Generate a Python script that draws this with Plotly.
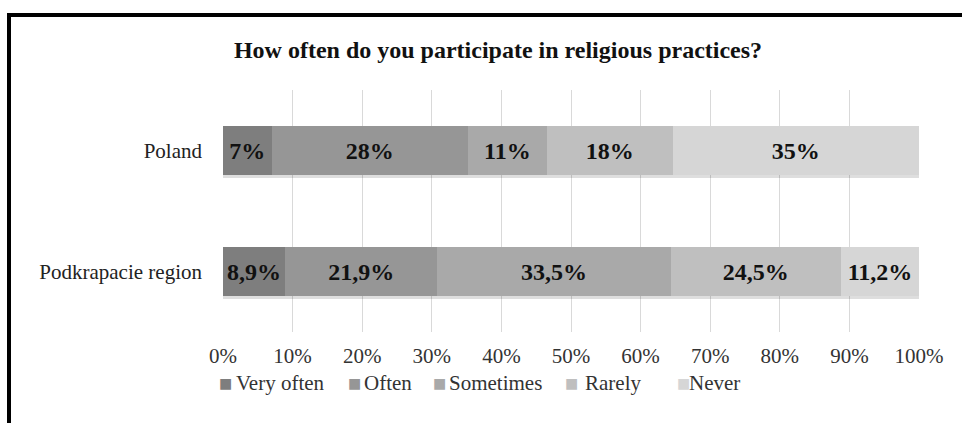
import plotly.graph_objects as go

categories = ["Poland", "Podkrapacie region"]
series_names = ["Very often", "Often", "Sometimes", "Rarely", "Never"]
# bar lengths (labels show rounded values)
very_often = [7.0, 8.9]
often = [28.2, 21.9]
sometimes = [11.3, 33.5]
rarely = [18.1, 24.5]
never = [35.4, 11.2]
labels_very_often = ["7%", "8,9%"]
labels_often = ["28%", "21,9%"]
labels_sometimes = ["11%", "33,5%"]
labels_rarely = ["18%", "24,5%"]
labels_never = ["35%", "11,2%"]
x_ticks = [0, 10, 20, 30, 40, 50, 60, 70, 80, 90, 100]
x_tick_labels = [f"{v}%" for v in x_ticks]

series_values = [very_often, often, sometimes, rarely, never]
series_labels = [labels_very_often, labels_often, labels_sometimes,
                 labels_rarely, labels_never]
colors = ["#7e7e7e", "#969696", "#a9a9a9", "#bfbfbf", "#d6d6d6"]

FONT = "Liberation Serif, Times New Roman, serif"

# plot area geometry in pixels
L, R, T, B = 223, 919, 90, 332
W, H = R - L, B - T

def px_x(p):
    return (p - L) / W

def px_y(p):
    return (B - p) / H

fig = go.Figure()

# soft drop shadow beneath each full bar (primary axis, drawn underneath)
totals = [sum(v[i] for v in series_values) for i in range(len(categories))]
fig.add_trace(go.Bar(
    y=categories, x=[t + 0.3 for t in totals], orientation="h",
    width=0.4, offset=-0.2 + 0.03,
    marker=dict(color="rgba(0,0,0,0.13)", line=dict(width=0)),
    showlegend=False, hoverinfo="skip", yaxis="y",
))

for name, vals, labs, col in zip(series_names, series_values, series_labels, colors):
    fig.add_trace(go.Bar(
        name=name, y=categories, x=vals, orientation="h",
        marker=dict(color=col, line=dict(width=0)),
        text=labs, textposition="inside", insidetextanchor="middle",
        textangle=0, constraintext="none",
        textfont=dict(family=FONT, size=24, color="#111111", weight="bold"),
        hoverinfo="skip", showlegend=False, yaxis="y2",
    ))

ycommon = dict(categoryorder="array", categoryarray=categories,
               autorange="reversed", showgrid=False, zeroline=False,
               showline=False, ticks="")

fig.update_layout(
    width=962, height=423,
    barmode="stack", bargap=0.6,
    paper_bgcolor="white", plot_bgcolor="white",
    margin=dict(l=L, r=962 - R, t=T, b=423 - B, autoexpand=False),
    font=dict(family=FONT, color="#222222", size=21),
    title=dict(text="<b>How often do you participate in religious practices?</b>",
               x=px_x(498), xref="paper", xanchor="center",
               y=1 - 50 / 423, yanchor="middle",
               font=dict(family=FONT, size=24, color="#111111")),
    xaxis=dict(range=[0, 100], tickvals=x_ticks, ticktext=x_tick_labels,
               showgrid=True, gridcolor="#d9d9d9", gridwidth=1,
               zeroline=False, showline=False, ticks="",
               ticklabelstandoff=9,
               tickfont=dict(family=FONT, size=21, color="#333333"),
               fixedrange=True),
    yaxis=dict(**ycommon, ticklabelstandoff=20,
               tickfont=dict(family=FONT, size=21, color="#222222")),
    yaxis2=dict(**ycommon, overlaying="y", showticklabels=False),
    showlegend=False,
)

# legend drawn as text: coloured square + name
legend_sq_x = [217, 346, 431, 563, 675]
legend_txt_x = [234, 362, 447, 583, 687]
legend_y = 383
for name, col, sx, tx in zip(series_names, colors, legend_sq_x, legend_txt_x):
    fig.add_annotation(text="■", x=px_x(sx), y=px_y(legend_y), xref="paper",
                       yref="paper", xanchor="left", yanchor="middle",
                       showarrow=False,
                       font=dict(family="DejaVu Sans", size=14, color=col))
    fig.add_annotation(text=name, x=px_x(tx), y=px_y(legend_y), xref="paper",
                       yref="paper", xanchor="left", yanchor="middle",
                       showarrow=False,
                       font=dict(family=FONT, size=21, color="#333333"))

# black frame on top and left edges
fig.add_shape(type="line", xref="paper", yref="paper",
              x0=px_x(7), x1=px_x(962), y0=px_y(15), y1=px_y(15),
              line=dict(color="black", width=4))
fig.add_shape(type="line", xref="paper", yref="paper",
              x0=px_x(9), x1=px_x(9), y0=px_y(13), y1=px_y(423),
              line=dict(color="black", width=4))

fig.write_html("out.html")
